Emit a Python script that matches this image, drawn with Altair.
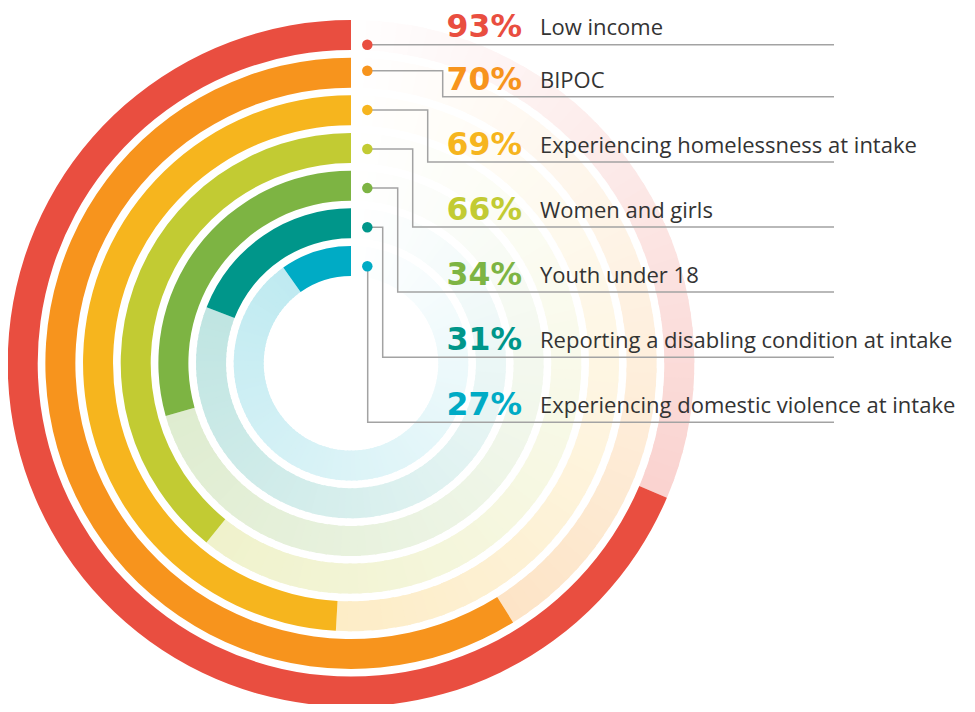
import math
import altair as alt
import pandas as pd

# ---------------- data ----------------
categories = [
    "Low income",
    "BIPOC",
    "Experiencing homelessness at intake",
    "Women and girls",
    "Youth under 18",
    "Reporting a disabling condition at intake",
    "Experiencing domestic violence at intake",
]
percents = [93, 70, 69, 66, 34, 31, 27]
# share of each ring (in % of a full turn) that the graphic paints as a solid arc
arc_share = [68.6, 58.9, 49.1, 39.2, 29.4, 19.1, 9.8]

# ---------------- style / layout ----------------
colors = ["#e94e40", "#f7941d", "#f6b51e", "#c2cb33", "#7db443", "#00968a", "#00abc5"]
TINT = 0.25
W, H = 959, 696
CX, CY = 343.0, 355.3
R0, RSTEP, BAND = 343.3, 37.67, 30.0
DOT_X, DOT_Y0, DOT_STEP = 359.3, 23.7, 39.1
LINE_Y0, LINE_STEP = 23.7, 65.1
ELBOW_X0, ELBOW_STEP = 449.7, 15.0
LINE_END = 826.0
PCT_X, LABEL_X = 514.0, 532.0
TEXT_UP = 16.3
PCT_SIZE, LABEL_SIZE = 31.5, 22
TOP_ROW_SHIFT = 13.0   # the page cannot draw above its 8px margin: nudge the first row down


def mix(hex_color, amount):
    r, g, b = (int(hex_color[k:k + 2], 16) for k in (1, 3, 5))
    return "#%02x%02x%02x" % tuple(round(255 - amount * (255 - c)) for c in (r, g, b))


n = len(categories)
bars = pd.DataFrame({
    "ring": list(range(n)),
    "category": categories,
    "start": [0.0] * n,
    "end": arc_share,
    "fill": colors,
})

seg_rows = []
for i in range(n):
    a = arc_share[i]
    m = max(10, int((100 - a) / 0.7))
    for k in range(m):
        s = a + (100 - a) * k / m
        e = min(100.0, a + (100 - a) * (k + 1) / m + 0.25)
        t = (k + 0.5) / m
        seg_rows.append({"ring": i, "start": s, "end": e, "fill": mix(colors[i], TINT * (1 - t))})
tracks = pd.DataFrame(seg_rows)

theta_scale = alt.Scale(domain=[0, 100], range=[2 * math.pi, 0])
radius_scale = alt.Scale(type="linear", domain=[0, n - 1], range=[R0, R0 - (n - 1) * RSTEP], zero=False)


def ring_layer(df):
    return alt.Chart(df).mark_arc(radius2Offset=-BAND, stroke=None).encode(
        theta=alt.Theta("start:Q", scale=theta_scale),
        theta2="end:Q",
        radius=alt.Radius("ring:Q", scale=radius_scale),
        radius2="ring:Q",
        color=alt.Color("fill:N", scale=None),
        x=alt.value(CX),
        y=alt.value(CY),
    )


track_layer = ring_layer(tracks)
bar_layer = ring_layer(bars)

# leader lines, dots and text
line_rows, dot_rows, text_rows = [], [], []
for i in range(n):
    shift = TOP_ROW_SHIFT if i == 0 else 0.0
    dy = DOT_Y0 + DOT_STEP * i + shift
    ly = LINE_Y0 + LINE_STEP * i + shift
    ex = ELBOW_X0 - ELBOW_STEP * i
    pts = [(DOT_X, dy), (ex, dy), (ex, ly), (LINE_END, ly)]
    for k, (px, py) in enumerate(pts):
        line_rows.append({"ring": i, "order": k, "x": px, "y": py})
    dot_rows.append({"ring": i, "x": DOT_X, "y": dy, "fill": colors[i]})
    text_rows.append({
        "ring": i,
        "px": PCT_X, "lx": LABEL_X, "y": ly - TEXT_UP,
        "pct": f"{percents[i]}%", "label": categories[i], "fill": colors[i],
    })
lines = pd.DataFrame(line_rows)
dots = pd.DataFrame(dot_rows)
texts = pd.DataFrame(text_rows)

xs = alt.Scale(domain=[0, W], range=[0, W])
ys = alt.Scale(domain=[0, H], range=[0, H])

line_layer = alt.Chart(lines).mark_line(color="#a3a3a3", strokeWidth=1.5).encode(
    x=alt.X("x:Q", scale=xs, axis=None),
    y=alt.Y("y:Q", scale=ys, axis=None),
    detail="ring:N",
    order="order:Q",
)
dot_layer = alt.Chart(dots).mark_circle(size=110, opacity=1).encode(
    x=alt.X("x:Q", scale=xs, axis=None),
    y=alt.Y("y:Q", scale=ys, axis=None),
    color=alt.Color("fill:N", scale=None),
)
pct_layer = alt.Chart(texts).mark_text(
    align="right", baseline="middle", font="DejaVu Sans", fontWeight="bold", fontSize=PCT_SIZE
).encode(
    x=alt.X("px:Q", scale=xs, axis=None),
    y=alt.Y("y:Q", scale=ys, axis=None),
    text="pct:N",
    color=alt.Color("fill:N", scale=None),
)
label_layer = alt.Chart(texts).mark_text(
    align="left", baseline="middle", font="Open Sans", fontWeight=400, fontSize=LABEL_SIZE, color="#333333"
).encode(
    x=alt.X("lx:Q", scale=xs, axis=None),
    y=alt.Y("y:Q", scale=ys, axis=None),
    text="label:N",
)

chart = alt.layer(
    track_layer, bar_layer, line_layer, dot_layer, pct_layer, label_layer
).properties(
    width=W, height=H, padding=0, autosize=alt.AutoSizeParams(type="none"),
).configure_view(stroke=None)

chart.save("out.html", embed_options={"renderer": "svg", "actions": False})
